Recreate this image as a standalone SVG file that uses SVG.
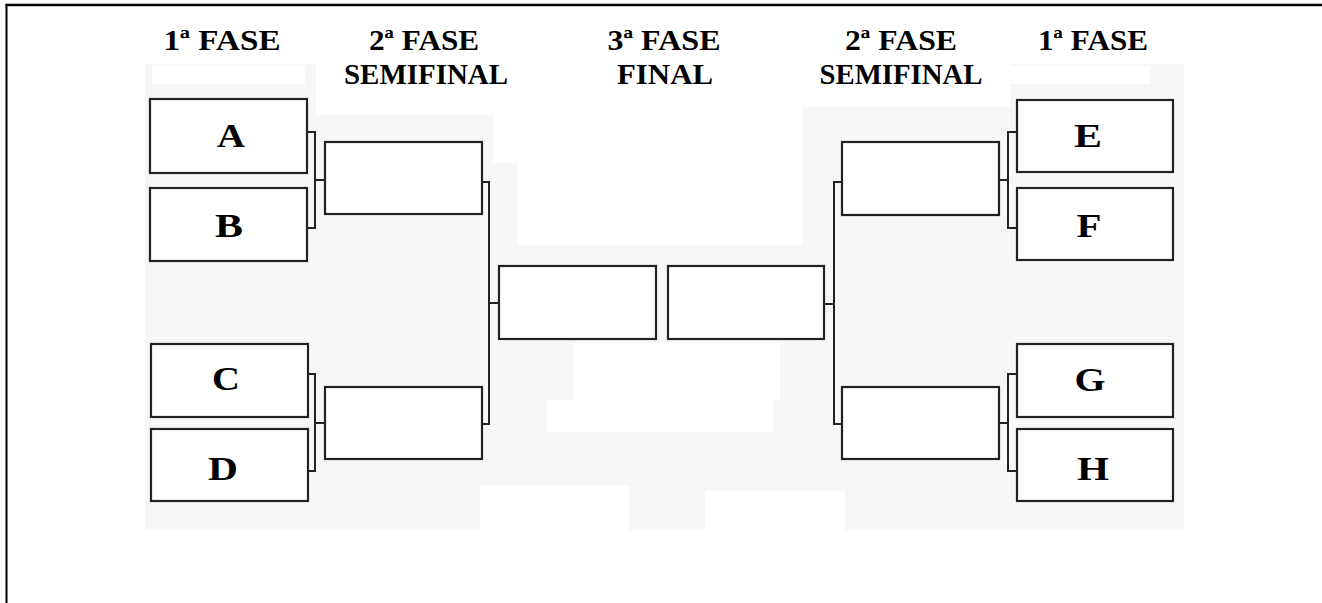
<svg xmlns="http://www.w3.org/2000/svg" width="1322" height="603" viewBox="0 0 1322 603">
<style>
.box{fill:#ffffff;stroke:#222222;stroke-width:2.2}
.conn{fill:none;stroke:#222222;stroke-width:2}
.hdr{font-family:"Liberation Serif","Times New Roman",serif;font-weight:bold;font-size:30px;fill:#000;text-anchor:middle}
.lbl{font-family:"Liberation Serif","Times New Roman",serif;font-weight:bold;font-size:33px;fill:#000;text-anchor:middle}
.bg{fill:#f7f7f7}
.wh{fill:#ffffff}
</style>
<rect x="0" y="0" width="1322" height="603" fill="#ffffff"/>
<g id="background">
<rect class="bg" x="145" y="64" width="1039" height="466"/>
<rect class="wh" x="316" y="64" width="177" height="51"/>
<rect class="wh" x="493" y="64" width="24" height="99"/>
<rect class="wh" x="517" y="64" width="286" height="181"/>
<rect class="wh" x="803" y="64" width="207" height="43"/>
<rect class="wh" x="152" y="66" width="153" height="18"/>
<rect class="wh" x="1010" y="66" width="140" height="18"/>
<rect class="wh" x="573" y="343" width="207" height="57"/>
<rect class="wh" x="547" y="400" width="226" height="32"/>
<rect class="wh" x="480" y="486" width="149" height="44"/>
<rect class="wh" x="705" y="491" width="140" height="39"/>
</g>
<g id="frame">
<line x1="5.5" y1="5" x2="1322" y2="5" stroke="#000" stroke-width="2.5"/>
<line x1="6.5" y1="4" x2="6.5" y2="603" stroke="#000" stroke-width="2"/>
</g>
<g id="headers">
<text class="hdr" x="222" y="50" textLength="117" lengthAdjust="spacingAndGlyphs">1ª FASE</text>
<text class="hdr" x="424" y="50" textLength="110" lengthAdjust="spacingAndGlyphs">2ª FASE</text>
<text class="hdr" x="426" y="84" textLength="164" lengthAdjust="spacingAndGlyphs">SEMIFINAL</text>
<text class="hdr" x="664" y="50" textLength="113" lengthAdjust="spacingAndGlyphs">3ª FASE</text>
<text class="hdr" x="665" y="84" textLength="96" lengthAdjust="spacingAndGlyphs">FINAL</text>
<text class="hdr" x="901" y="50" textLength="112" lengthAdjust="spacingAndGlyphs">2ª FASE</text>
<text class="hdr" x="901" y="84" textLength="163" lengthAdjust="spacingAndGlyphs">SEMIFINAL</text>
<text class="hdr" x="1093" y="50" textLength="110" lengthAdjust="spacingAndGlyphs">1ª FASE</text>
</g>
<g id="connectors">
<path class="conn" d="M307,132 H315 V228 H307 M315,180 H325"/>
<path class="conn" d="M308,374 H315 V471 H308 M315,423 H325"/>
<path class="conn" d="M482,182 H489 V424 H482 M489,303 H499"/>
<path class="conn" d="M842,182 H834 V424 H842 M834,304 H824"/>
<path class="conn" d="M1017,132 H1008 V228 H1017 M1008,180 H999"/>
<path class="conn" d="M1017,374 H1008 V471 H1017 M1008,423 H999"/>
</g>
<g id="node-A"><rect class="box" x="150" y="99" width="157" height="74"/><text class="lbl" x="231" y="147" textLength="28" lengthAdjust="spacingAndGlyphs">A</text></g>
<g id="node-B"><rect class="box" x="150" y="188" width="157" height="73"/><text class="lbl" x="229" y="237" textLength="28" lengthAdjust="spacingAndGlyphs">B</text></g>
<g id="node-C"><rect class="box" x="151" y="344" width="157" height="73"/><text class="lbl" x="226" y="390" textLength="28" lengthAdjust="spacingAndGlyphs">C</text></g>
<g id="node-D"><rect class="box" x="151" y="429" width="157" height="72"/><text class="lbl" x="223" y="480" textLength="30" lengthAdjust="spacingAndGlyphs">D</text></g>
<g id="node-semi-left-top"><rect class="box" x="325" y="142" width="157" height="72"/></g>
<g id="node-semi-left-bottom"><rect class="box" x="325" y="387" width="157" height="72"/></g>
<g id="node-final-left"><rect class="box" x="499" y="266" width="157" height="73"/></g>
<g id="node-final-right"><rect class="box" x="668" y="266" width="156" height="73"/></g>
<g id="node-semi-right-top"><rect class="box" x="842" y="142" width="157" height="73"/></g>
<g id="node-semi-right-bottom"><rect class="box" x="842" y="387" width="157" height="72"/></g>
<g id="node-E"><rect class="box" x="1017" y="100" width="156" height="72"/><text class="lbl" x="1088" y="147" textLength="28" lengthAdjust="spacingAndGlyphs">E</text></g>
<g id="node-F"><rect class="box" x="1017" y="188" width="156" height="72"/><text class="lbl" x="1089" y="237" textLength="25" lengthAdjust="spacingAndGlyphs">F</text></g>
<g id="node-G"><rect class="box" x="1017" y="344" width="156" height="73"/><text class="lbl" x="1090" y="391" textLength="31" lengthAdjust="spacingAndGlyphs">G</text></g>
<g id="node-H"><rect class="box" x="1017" y="429" width="156" height="72"/><text class="lbl" x="1093" y="480" textLength="32" lengthAdjust="spacingAndGlyphs">H</text></g>
</svg>
